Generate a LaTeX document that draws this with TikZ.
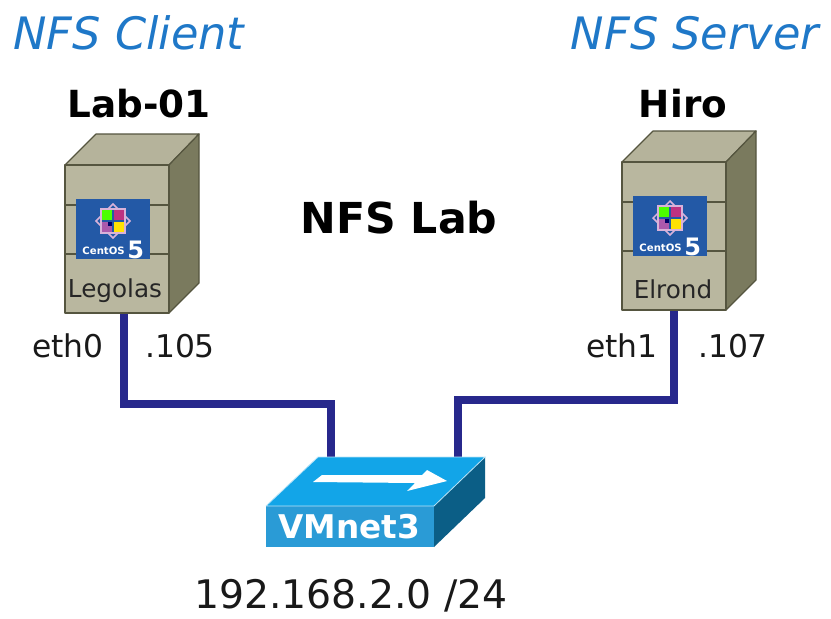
\documentclass[tikz,border=0pt]{standalone}
\usepackage{fontspec}
\setmainfont{DejaVu Sans}
\definecolor{bfront}{HTML}{B9B79F}
\definecolor{btop}{HTML}{B5B39B}
\definecolor{bside}{HTML}{7A7A5E}
\definecolor{bedge}{HTML}{55553F}
\definecolor{logoblue}{HTML}{2359A6}
\definecolor{cable}{HTML}{27288C}
\definecolor{swtop}{HTML}{12A5E8}
\definecolor{swfront}{HTML}{2A9BD6}
\definecolor{swside}{HTML}{0B5E86}
\definecolor{headblue}{HTML}{1F78C8}
\tikzset{
  face/.style={draw=bedge,line width=0.9pt,line join=round},
  head/.style={font=\fontsize{33.5}{36}\selectfont\itshape,text=headblue,inner sep=0pt},
  title/.style={font=\fontsize{28}{30}\selectfont\bfseries,text=black,inner sep=0pt},
  lbl/.style={font=\fontsize{23.5}{26}\selectfont,text=black!90,inner sep=0pt},
  hostlbl/.style={font=\fontsize{18.5}{20}\selectfont,text=black!85,inner sep=0pt},
  wire/.style={draw=cable,line width=5.4pt,line join=miter},
  logotxt/.style={font=\fontsize{7.6}{8}\selectfont\bfseries,text=white,inner sep=0pt},
  logofive/.style={font=\fontsize{18}{18}\selectfont\bfseries,text=white,inner sep=0pt},
}
% #1 x of the front-left, #2 y of the front-top, #3 name
\newcommand{\serverbox}[3]{%
  \begin{scope}[shift={(#1,#2)}]
    \fill[bfront] (0,0) rectangle (104,148);
    \draw[face,fill=btop] (0,0) -- (31,-31) -- (134,-31) -- (104,0) -- cycle;
    \draw[face,fill=bside] (104,0) -- (134,-31) -- (134,118) -- (104,148) -- cycle;
    \draw[face] (0,0) rectangle (104,148);
    \draw[bedge,line width=0.8pt] (0,40) -- (104,40) (0,89) -- (104,89);
    \fill[logoblue] (11,34) rectangle (85,94);
    \begin{scope}[shift={(48,56)}]
      \draw[white!70!violet,line width=1.1pt,rotate=45] (-12,-12) rectangle (12,12);
      \fill[green!70!yellow] (-11,-11) rectangle (-1,-1);
      \fill[magenta!75!black] (1,-11) rectangle (11,-1);
      \fill[yellow!85!orange] (1,1) rectangle (11,11);
      \fill[violet!65!white] (-11,1) rectangle (-1,11);
      \fill[blue!40!black] (-5,1) rectangle (-1,5);
      \draw[white!70!violet,line width=1.1pt] (-12,-12) rectangle (12,12);
    \end{scope}
    \node[logotxt,anchor=east] (#3c) at (60,86) {CentOS};
    \node[logofive,anchor=west] (#3f) at (62,85) {5};
  \end{scope}}
\begin{document}
\begin{tikzpicture}[x=0.75pt,y=-0.75pt]
\useasboundingbox (0,0) rectangle (831,618);
\fill[white] (0,0) rectangle (831,618);

\coordinate (lefttop) at (124,313);
\coordinate (righttop) at (674,311);
\coordinate (swl) at (331,458);
\coordinate (swr) at (458,458);

\draw[wire] (lefttop) -- (124,404) -- (331,404) -- (swl);
\draw[wire] (righttop) -- (674,400) -- (458,400) -- (swr);

\serverbox{65}{165}{l}
\serverbox{622}{162}{r}

\node[hostlbl] (legolas) at (115,291) {Legolas};
\node[hostlbl] (elrond) at (673,289) {Elrond};

% switch
\fill[swtop] (266,506) -- (318,457) -- (485,457) -- (434,506) -- cycle;
\fill[swside] (434,506) -- (485,457) -- (485,498) -- (434,547) -- cycle;
\fill[swfront] (266,506) rectangle (434,547);
\draw[white!70!swtop,line width=0.6pt] (266,506) -- (318,457) -- (485,457) -- (434,506) -- (266,506);
\fill[white] (313,482) -- (322,475) -- (422,475) -- (427,470) -- (447,481) -- (407,491) -- (415,483) -- cycle;
\node[font=\fontsize{24.5}{26}\selectfont\bfseries,text=white,inner sep=0pt] (vmnet) at (349,527) {VMnet3};

\node[head] (client) at (129,33) {NFS Client};
\node[head] (server) at (695,33) {NFS Server};
\node[title] (lab) at (139,104) {Lab-01};
\node[title] (hiro) at (683,104) {Hiro};
\node[title,font=\fontsize{32}{34}\selectfont\bfseries] (nfs) at (399,218) {NFS Lab};
\node[lbl] (eth0) at (68,346) {eth0};
\node[lbl] (ip105) at (180,346) {.105};
\node[lbl] (eth1) at (622,346) {eth1};
\node[lbl] (ip107) at (733,346) {.107};
\node[font=\fontsize{29.5}{32}\selectfont,text=black!90,inner sep=0pt] (subnet) at (351,596) {192.168.2.0 /24};
\end{tikzpicture}
\end{document}
